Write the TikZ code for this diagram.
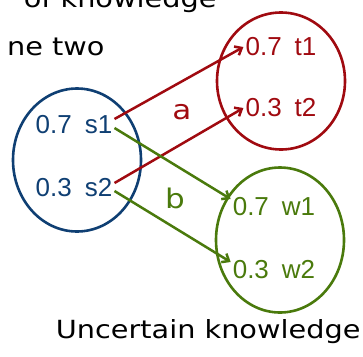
\documentclass[tikz,border=0pt]{standalone}
\usepackage{fontspec}
\setmainfont{Liberation Sans}
\newfontfamily\slidefont[FakeStretch=1.15]{DejaVu Sans}
\usetikzlibrary{shapes.geometric,arrows.meta}

\definecolor{setblue}{HTML}{0F3F73}
\definecolor{setred}{HTML}{A00A10}
\definecolor{setgreen}{HTML}{4A7A0C}

\newcommand{\pv}[2]{#1\hspace{13pt}#2}

\tikzset{
	setring/.style={shape=ellipse,draw=#1,line width=2.6pt,minimum width=128pt,minimum height=143pt},
	val/.style={text=#1,font=\fontsize{26}{30}\selectfont,inner sep=2pt},
	link/.style={draw=#1,line width=2.5pt,-{Straight Barb[length=6pt,width=10pt]}},
	slide/.style={font=\slidefont\fontsize{25}{30}\selectfont}
}

\begin{document}
\begin{tikzpicture}[x=1pt,y=-1pt]
	\useasboundingbox (0,0) rectangle (363,356);

	% slide text
	\node[slide,anchor=base east] (top)  at (220,8)   {of knowledge};
	\node[slide,anchor=base east] (two)  at (108,55)  {ne two};
	\node[slide,anchor=base east] (unc)  at (364,338) {Uncertain knowledge};

	% the three sets
	\node[setring=setblue]  (S) at (77,160)  {};
	\node[setring=setred,minimum height=137pt]   (T) at (281,81)  {};
	\node[setring=setgreen,minimum height=145pt] (W) at (280,240) {};

	\node[val=setblue]  (s1) at (74,125)  {\pv{0.7}{s1}};
	\node[val=setblue]  (s2) at (74,188)  {\pv{0.3}{s2}};
	\node[val=setred]   (t1) at (281,47)  {\pv{0.7}{t1}};
	\node[val=setred]   (t2) at (281,108) {\pv{0.3}{t2}};
	\node[val=setgreen] (w1) at (274,207) {\pv{0.7}{w1}};
	\node[val=setgreen] (w2) at (274,270) {\pv{0.3}{w2}};

	\draw[link=setred]   ([yshift=6pt]s1.east)  -- (t1.west);
	\draw[link=setred]   ([yshift=5pt]s2.east)  -- (t2.west);
	\draw[link=setgreen] ([yshift=-3pt]s1.east) -- ([yshift=8pt]w1.west);
	\draw[link=setgreen] ([yshift=-3pt]s2.east) -- ([yshift=8pt]w2.west);

	\node[slide,text=setred,font=\slidefont\fontsize{27}{30}\selectfont]   (a) at (182,112) {a};
	\node[slide,text=setgreen,font=\slidefont\fontsize{27}{30}\selectfont] (b) at (175,198) {b};
\end{tikzpicture}
\end{document}
